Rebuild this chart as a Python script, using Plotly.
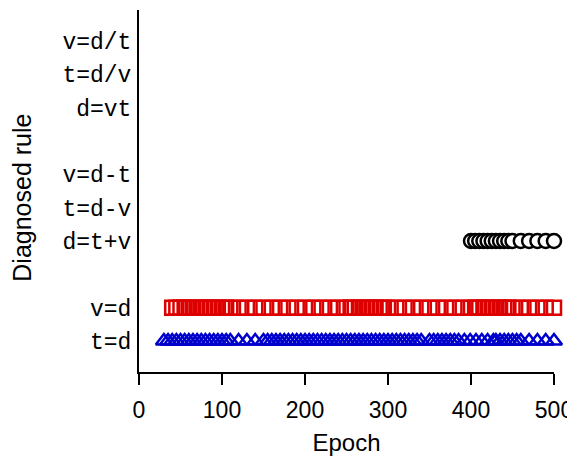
import plotly.graph_objects as go

rule_labels = ["t=d", "v=d", "d=t+v", "t=d-v", "v=d-t", "d=vt", "t=d/v", "v=d/t"]
rule_pos = [1, 2, 4, 5, 6, 8, 9, 10]

# epochs at which each rule was diagnosed
epochs_t_eq_d = (list(range(30, 106, 5)) + list(range(110, 151, 10)) + list(range(155, 336, 5))
                 + [340, 350] + list(range(355, 386, 5)) + [392, 399, 406, 413, 420, 427]
                 + list(range(430, 461, 5)) + list(range(470, 501, 10)))
epochs_v_eq_d = (list(range(40, 106, 5)) + list(range(110, 251, 10)) + list(range(255, 301, 5))
                 + list(range(310, 401, 10)) + list(range(405, 451, 5)) + list(range(460, 501, 10)))
epochs_d_eq_tv = list(range(400, 451, 5)) + list(range(460, 501, 10))

fig = go.Figure()
fig.add_trace(go.Scatter(
    x=epochs_t_eq_d, y=[rule_pos[0]] * len(epochs_t_eq_d), mode="markers",
    marker=dict(symbol="triangle-up-open", size=14, color="#0000cc", line=dict(width=2.5, color="#0000cc")),
    cliponaxis=False, showlegend=False))
fig.add_trace(go.Scatter(
    x=epochs_v_eq_d, y=[rule_pos[1]] * len(epochs_v_eq_d), mode="markers",
    marker=dict(symbol="square-open", size=14, color="#dd0000", line=dict(width=2.5, color="#dd0000")),
    cliponaxis=False, showlegend=False))
fig.add_trace(go.Scatter(
    x=epochs_d_eq_tv, y=[rule_pos[2]] * len(epochs_d_eq_tv), mode="markers",
    marker=dict(symbol="circle", size=14, color="white", line=dict(width=2.5, color="black")),
    cliponaxis=False, showlegend=False))

fig.update_layout(
    width=575, height=456,
    margin=dict(l=131, r=29, t=2, b=92),
    plot_bgcolor="white", paper_bgcolor="white",
    font=dict(family="Liberation Sans, Arial, sans-serif", color="black"),
    xaxis=dict(range=[0, 500], tickvals=[0, 100, 200, 300, 400, 500],
               automargin=False,
               showline=True, linecolor="black", linewidth=2,
               ticks="outside", ticklen=11, tickwidth=2, tickcolor="black",
               ticklabelstandoff=5,
               showgrid=False, zeroline=False,
               tickfont=dict(size=23, family="Liberation Sans, Arial, sans-serif"),
               title=dict(text="Epoch", font=dict(size=24), standoff=13)),
    yaxis=dict(range=[0.07, 10.93], tickvals=rule_pos, ticktext=rule_labels,
               automargin=False,
               showline=True, linecolor="black", linewidth=2,
               ticks="", ticklen=0, showgrid=False, zeroline=False,
               ticklabelstandoff=1,
               tickfont=dict(size=23, family="Liberation Mono, Courier New, monospace")),
    annotations=[dict(text="Diagnosed rule", textangle=-90, xref="paper", yref="paper",
                      x=-0.2826, y=0.4807, xanchor="center", yanchor="middle",
                      showarrow=False, font=dict(size=25))],
)

fig.write_html("out.html")
